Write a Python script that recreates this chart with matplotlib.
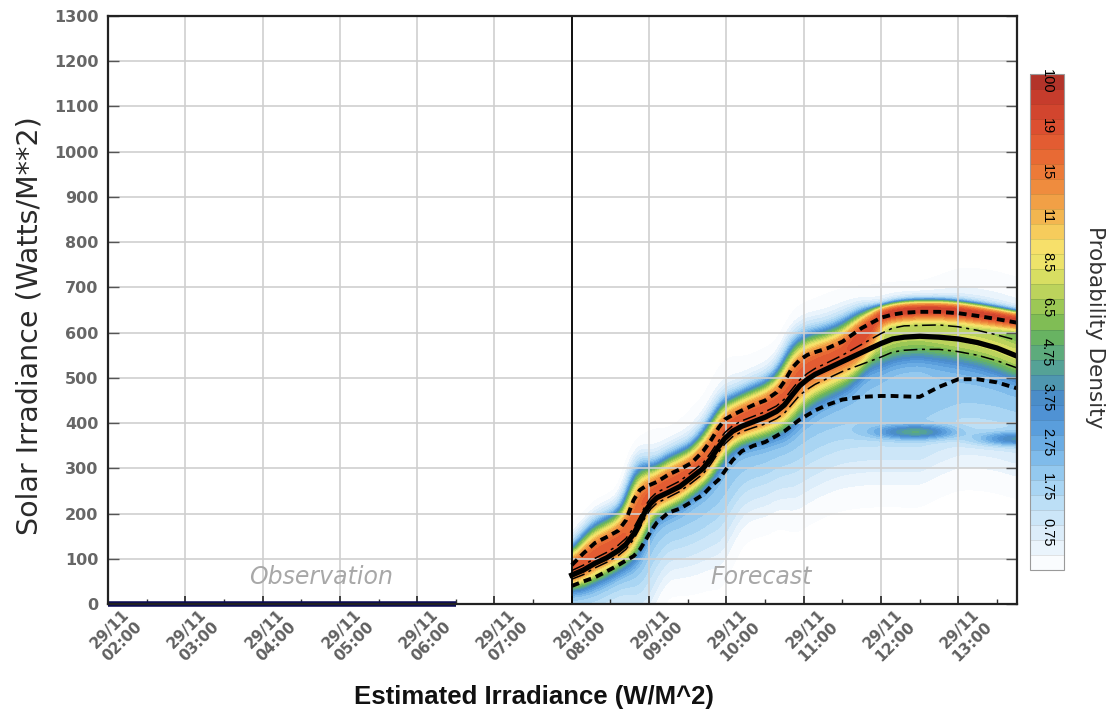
import numpy as np
import matplotlib
matplotlib.use("Agg")
import matplotlib.pyplot as plt
from matplotlib.ticker import FixedLocator, MultipleLocator
from matplotlib.transforms import ScaledTranslation, blended_transform_factory

# --- observed irradiance (hours of 29/11), flat at zero overnight ---
obs_hours = [2.0, 2.5, 3.0, 3.5, 4.0, 4.5, 5.0, 5.5, 6.0, 6.5]
obs_vals = [0, 0, 0, 0, 0, 0, 0, 0, 0, 0]

# --- forecast percentiles (W/m2) ---
fc_hours = [8.0, 8.15, 8.3, 8.45, 8.6, 8.7, 8.8, 8.88, 8.95, 9.02,
            9.1, 9.25, 9.4, 9.55, 9.7, 9.8, 9.9, 9.98, 10.08, 10.2,
            10.35, 10.5, 10.65, 10.75, 10.85, 10.95, 11.05, 11.15, 11.3, 11.5,
            11.75, 12.0, 12.15, 12.3, 12.5, 12.75, 13.0, 13.25, 13.5, 13.76]
q10 = [40, 50, 59, 72, 86, 96, 106, 120, 140, 160,
       180, 202, 211, 226, 242, 260, 275, 294, 318, 338,
       350, 358, 372, 382, 395, 408, 418, 428, 440, 452,
       458, 460, 460, 459, 458, 480, 497, 497, 490, 477]
q25 = [55, 65, 80, 92, 107, 121, 143, 168, 192, 210,
       223, 236, 249, 268, 288, 310, 336, 354, 370, 381,
       390, 398, 410, 422, 442, 462, 475, 486, 498, 514,
       530, 546, 557, 561, 563, 563, 558, 550, 538, 522]
q50 = [64, 75, 90, 102, 118, 132, 155, 180, 205, 222,
       235, 247, 260, 280, 300, 322, 348, 366, 382, 393,
       403, 413, 426, 440, 462, 483, 497, 508, 520, 536,
       556, 576, 586, 590, 592, 590, 586, 578, 566, 548]
q75 = [74, 86, 101, 114, 130, 145, 168, 193, 217, 234,
       247, 259, 272, 292, 312, 335, 361, 379, 394, 405,
       415, 425, 438, 453, 475, 496, 510, 521, 533, 550,
       574, 598, 610, 615, 616, 617, 613, 605, 595, 583]
q90 = [86, 112, 135, 148, 162, 185, 230, 252, 260, 264,
       270, 286, 298, 312, 338, 362, 390, 408, 418, 428,
       440, 450, 468, 492, 522, 540, 551, 557, 565, 580,
       610, 633, 640, 644, 646, 646, 643, 637, 630, 622]

# secondary patches of probability below the main plume
blob_hours = [12.45, 13.76]
blob_vals = [380, 365]
blob_amp = [3.0, 2.8]

# --- probability density colour scale ---
cb_levels = [0.1, 0.3, 0.5, 0.75, 1.1, 1.4, 1.75, 2.1, 2.4, 2.75, 3.1, 3.4, 3.75,
             4.1, 4.4, 4.75, 5.3, 5.9, 6.5, 7.2, 7.8, 8.5, 9.3, 10.1, 11,
             12.3, 13.7, 15, 16.3, 17.7, 19, 40, 70, 100]
cb_colors = ['#fafcfe', '#eaf4fc', '#dcedfa', '#cce6f8', '#bcdff6', '#a9d5f3',
             '#94c9ef', '#7fbbea', '#6aace4', '#5a9edc', '#4f92d4', '#4b8dc8',
             '#4f97b0', '#55a296', '#5dab7c', '#68b362', '#80bd55', '#9cc855',
             '#bcd35c', '#d8de62', '#ede36a', '#f7e06a', '#f6cc5c', '#f3b650',
             '#f1a046', '#ef8c3e', '#ec7a38', '#e86a34', '#e35c32', '#dc4f30',
             '#d2452e', '#c63c2c', '#b3342a']
cb_labels = ['0.75', '1.75', '2.75', '3.75', '4.75', '6.5', '8.5', '11', '15', '19', '100']

tick_hours = list(range(2, 14))
tick_labels = ['29/11\n%02d:00' % h for h in tick_hours]

# --- density field built from the percentile curves ---
t = np.linspace(8.0, 13.8, 400)
yv = np.linspace(0, 1300, 651)
T, Y = np.meshgrid(t, yv)
lo = np.interp(t, fc_hours, q10)
lq = np.interp(t, fc_hours, q25)
med = np.interp(t, fc_hours, q50)
up = np.interp(t, fc_hours, q90)
late = np.interp(t, [8, 11.5, 12.0, 13.8], [0, 0, 1, 1])
c = med + (0.45 + 0.6 * late) * (up - med) + 3 * late
sa = (up - c) * 0.9 + 13 + 3 * late
sb = (1 - late) * ((c - lq) * 0.8 + 6) + late * 15
sig = np.where(Y > c, sa, sb)
dens = (16 + 2 * late) * np.exp(-0.5 * ((Y - c) / sig) ** 2)
dens += 6 * late * np.exp(-0.5 * ((Y - (med + 5)) / 35) ** 2)
st = np.minimum(1.0 * (med - lo) + 30, 100)
dens += 2.0 * np.exp(-0.5 * ((Y - lo) / st) ** 2)
for bh, bv, ba in zip(blob_hours, blob_vals, blob_amp):
    dens += ba * np.exp(-0.5 * ((T - bh) / 0.35) ** 2 - 0.5 * ((Y - bv) / 10) ** 2)
# soften along time
kx = np.arange(-12, 13)
kern = np.exp(-0.5 * (kx / 4.0) ** 2)
kern /= kern.sum()
padded = np.pad(dens, ((0, 0), (12, 12)), mode='edge')
dens = np.array([np.convolve(row, kern, mode='valid') for row in padded])

fig = plt.figure(figsize=(11.12, 7.15), dpi=100)
ax = fig.add_axes([0.0971, 0.1552, 0.8175, 0.8224])
cax = fig.add_axes([0.9263, 0.2028, 0.0306, 0.6937])

cf = ax.contourf(T, Y, dens, levels=cb_levels, colors=cb_colors, zorder=0.5)

ax.set_xlim(2, 13.76)
ax.set_ylim(0, 1300)
ax.set_axisbelow(False)
ax.grid(True, which='major', color='#cfcfcf', lw=1.2)

# percentile lines
ax.plot(fc_hours, q90, color='black', lw=2.8, ls=(0, (2, 1.3)), zorder=4)
ax.plot(fc_hours, q10, color='black', lw=2.8, ls=(0, (2, 1.3)), zorder=4)
ax.plot(fc_hours, q75, color='black', lw=1.1, ls=(0, (9, 3, 2, 3)), zorder=4)
ax.plot(fc_hours, q25, color='black', lw=1.1, ls=(0, (9, 3, 2, 3)), zorder=4)
ax.plot(fc_hours, q50, color='black', lw=3.8, solid_joinstyle='round', zorder=5)

ax.axvline(8, color='black', lw=1.3, zorder=6)
ax.plot(obs_hours, obs_vals, color='#0b0b55', lw=4, solid_capstyle='butt', zorder=6, clip_on=False)

ax.text(4.75, 60, 'Observation', style='italic', color='#a8a8a8', fontsize=17,
        ha='center', va='center', zorder=7)
ax.text(10.45, 60, 'Forecast', style='italic', color='#a8a8a8', fontsize=17,
        ha='center', va='center', zorder=7)

# axes styling
for s in ax.spines.values():
    s.set_color('#222222')
    s.set_linewidth(1.6)
    s.set_zorder(8)
ax.yaxis.set_major_locator(MultipleLocator(100))
ax.xaxis.set_major_locator(FixedLocator(tick_hours))
ax.xaxis.set_minor_locator(MultipleLocator(0.5))
ax.set_xticklabels(tick_labels, rotation=45, ha='center', va='top', multialignment='center')
ax.tick_params(axis='x', which='major', direction='in', length=6, width=1.3, color='#333333',
               labelsize=11, labelcolor='#606060', pad=2)
ax.tick_params(axis='x', which='minor', direction='in', length=3.5, width=1.0, color='#333333')
ax.tick_params(axis='y', direction='in', length=8, width=1.0, color='#555555', left=True, right=True,
               labelsize=11.5, labelcolor='#666666', pad=7)
for lab in ax.get_yticklabels():
    lab.set_fontweight('bold')
for lab in ax.get_xticklabels():
    lab.set_fontweight('bold')
    lab.set_transform(lab.get_transform() + ScaledTranslation(8 / 100, 0, fig.dpi_scale_trans))

ax.set_ylabel('Solar Irradiance (Watts/M**2)', fontsize=20.5, color='#2a2a2a')
ax.yaxis.set_label_coords(-0.071, 0.474)
fig.text(0.480, 0.025, 'Estimated Irradiance (W/M^2)', ha='center', va='center',
         fontsize=18.5, fontweight='bold', family='Liberation Sans', color='#111111')

# colour bar
cbar = fig.colorbar(cf, cax=cax, ticks=[], drawedges=True)
cbar.outline.set_edgecolor('#9a9a9a')
cbar.outline.set_linewidth(0.8)
cbar.dividers.set_color((0, 0, 0, 0.12))
cbar.dividers.set_linewidth(0.6)
cax.minorticks_off()
tr = blended_transform_factory(cax.transAxes, cax.transData)
for i, lab in enumerate(cb_labels):
    k = 3 * i + 2
    ymid = 0.5 * (cb_levels[k] + cb_levels[k + 1])
    cax.text(0.5, ymid, lab, transform=tr, rotation=270, ha='center', va='center',
             fontsize=10.5, color='black', family='Liberation Sans')
fig.text(0.9847, 0.5427, 'Probability Density', rotation=270, ha='center', va='center',
         fontsize=15.5, color='#333333')

fig.savefig('out.png', dpi=100)
